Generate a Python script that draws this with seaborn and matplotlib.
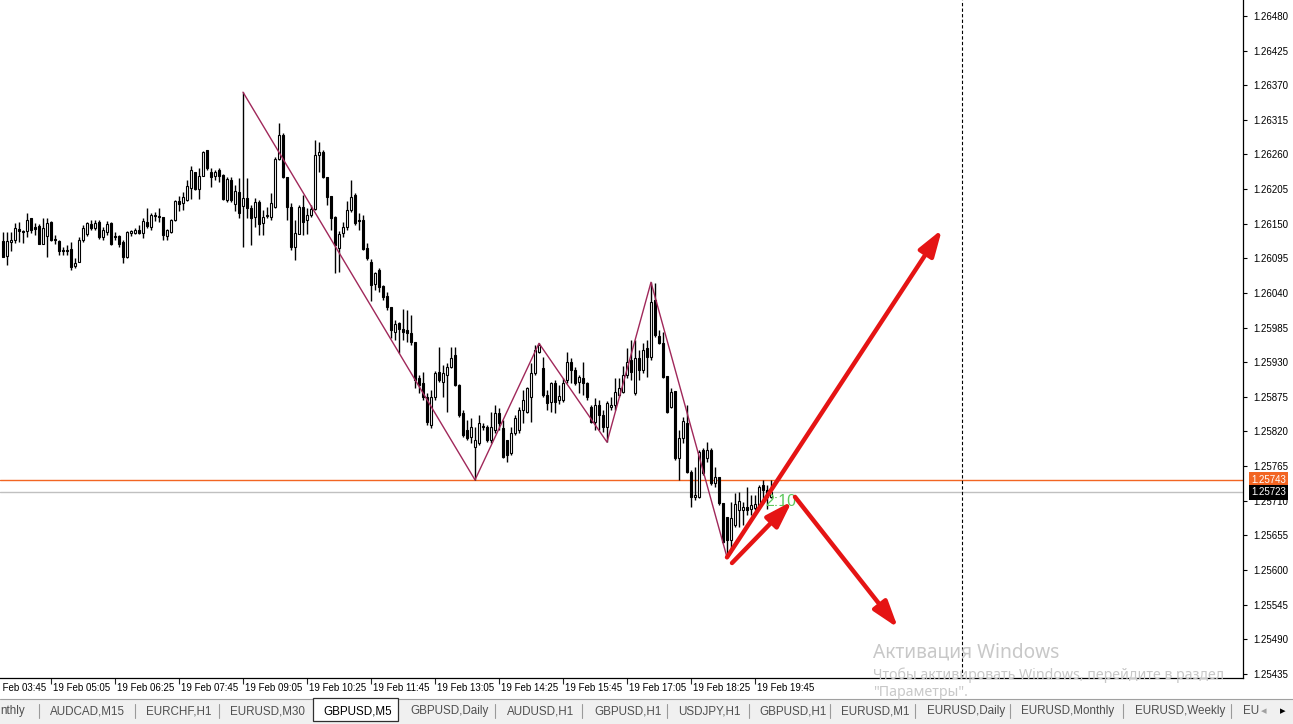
import numpy as np
import pandas as pd
import matplotlib
matplotlib.use("Agg")
import matplotlib.pyplot as plt
import matplotlib.transforms as mtransforms
from matplotlib.patches import Rectangle
from matplotlib.lines import Line2D
import seaborn as sns

# ---------------- data (GBPUSD, M5, 19 Feb) ----------------
opens = [1.26122, 1.26098, 1.26121, 1.26124, 1.26141, 1.26138, 1.26138, 1.26159, 1.26144, 1.26146,
         1.26118, 1.26130, 1.26152, 1.26126, 1.26122, 1.26108, 1.26108, 1.26110, 1.26083, 1.26089,
         1.26124, 1.26133, 1.26149, 1.26143, 1.26152, 1.26129, 1.26137, 1.26151, 1.26130, 1.26130,
         1.26121, 1.26097, 1.26135, 1.26135, 1.26140, 1.26135, 1.26152, 1.26144, 1.26164, 1.26162,
         1.26160, 1.26130, 1.26137, 1.26156, 1.26186, 1.26183, 1.26187, 1.26206, 1.26232, 1.26205,
         1.26226, 1.26267, 1.26232, 1.26226, 1.26235, 1.26227, 1.26187, 1.26219, 1.26181, 1.26200,
         1.26178, 1.26191, 1.26175, 1.26160, 1.26184, 1.26151, 1.26162, 1.26160, 1.26176, 1.26253,
         1.26291, 1.26224, 1.26176, 1.26113, 1.26133, 1.26176, 1.26156, 1.26164, 1.26173, 1.26259,
         1.26264, 1.26224, 1.26194, 1.26160, 1.26111, 1.26135, 1.26144, 1.26172, 1.26195, 1.26156,
         1.26156, 1.26112, 1.26089, 1.26054, 1.26076, 1.26051, 1.26035, 1.26017, 1.25978, 1.25992,
         1.25983, 1.25981, 1.25976, 1.25962, 1.25905, 1.25897, 1.25875, 1.25830, 1.25875, 1.25914,
         1.25898, 1.25910, 1.25922, 1.25941, 1.25894, 1.25849, 1.25822, 1.25811, 1.25795, 1.25802,
         1.25827, 1.25827, 1.25806, 1.25822, 1.25849, 1.25825, 1.25806, 1.25786, 1.25817, 1.25822,
         1.25854, 1.25851, 1.25875, 1.25913, 1.25946, 1.25921, 1.25878, 1.25867, 1.25897, 1.25870,
         1.25870, 1.25902, 1.25930, 1.25917, 1.25898, 1.25905, 1.25897, 1.25859, 1.25835, 1.25862,
         1.25846, 1.25827, 1.25859, 1.25862, 1.25878, 1.25883, 1.25910, 1.25933, 1.25881, 1.25937,
         1.25917, 1.25952, 1.25938, 1.26029, 1.25971, 1.25960, 1.25908, 1.25859, 1.25884, 1.25778,
         1.25810, 1.25833, 1.25755, 1.25716, 1.25716, 1.25790, 1.25778, 1.25790, 1.25738, 1.25748,
         1.25706, 1.25684, 1.25648, 1.25671, 1.25695, 1.25695, 1.25700, 1.25697, 1.25698, 1.25703,
         1.25735, 1.25727, 1.25716]

closes = [1.26097, 1.26122, 1.26124, 1.26143, 1.26138, 1.26137, 1.26156, 1.26140, 1.26141, 1.26118,
          1.26143, 1.26151, 1.26124, 1.26124, 1.26106, 1.26106, 1.26106, 1.26081, 1.26087, 1.26124,
          1.26143, 1.26151, 1.26143, 1.26151, 1.26129, 1.26140, 1.26149, 1.26118, 1.26129, 1.26118,
          1.26097, 1.26137, 1.26138, 1.26140, 1.26135, 1.26154, 1.26146, 1.26164, 1.26162, 1.26160,
          1.26132, 1.26140, 1.26156, 1.26186, 1.26181, 1.26192, 1.26210, 1.26235, 1.26205, 1.26226,
          1.26264, 1.26238, 1.26224, 1.26232, 1.26226, 1.26189, 1.26221, 1.26187, 1.26202, 1.26167,
          1.26191, 1.26175, 1.26159, 1.26184, 1.26149, 1.26160, 1.26164, 1.26183, 1.26253, 1.26291,
          1.26224, 1.26176, 1.26113, 1.26135, 1.26176, 1.26152, 1.26164, 1.26173, 1.26259, 1.26264,
          1.26224, 1.26192, 1.26159, 1.26116, 1.26133, 1.26144, 1.26172, 1.26192, 1.26151, 1.26155,
          1.26110, 1.26095, 1.26052, 1.26071, 1.26049, 1.26033, 1.26017, 1.25981, 1.25990, 1.25983,
          1.25978, 1.25976, 1.25962, 1.25902, 1.25894, 1.25875, 1.25835, 1.25875, 1.25913, 1.25902,
          1.25913, 1.25922, 1.25937, 1.25894, 1.25846, 1.25814, 1.25810, 1.25827, 1.25806, 1.25833,
          1.25829, 1.25806, 1.25827, 1.25849, 1.25833, 1.25779, 1.25782, 1.25817, 1.25841, 1.25854,
          1.25870, 1.25889, 1.25913, 1.25949, 1.25957, 1.25878, 1.25865, 1.25897, 1.25867, 1.25876,
          1.25897, 1.25930, 1.25917, 1.25897, 1.25906, 1.25897, 1.25875, 1.25835, 1.25862, 1.25846,
          1.25827, 1.25865, 1.25862, 1.25883, 1.25889, 1.25910, 1.25930, 1.25914, 1.25937, 1.25917,
          1.25949, 1.25938, 1.26025, 1.25973, 1.25960, 1.25906, 1.25851, 1.25883, 1.25778, 1.25810,
          1.25836, 1.25755, 1.25716, 1.25719, 1.25787, 1.25754, 1.25790, 1.25738, 1.25748, 1.25706,
          1.25644, 1.25648, 1.25682, 1.25705, 1.25709, 1.25700, 1.25695, 1.25703, 1.25705, 1.25732,
          1.25727, 1.25716, 1.25723]

highs = [1.26137, 1.26137, 1.26137, 1.26151, 1.26152, 1.26140, 1.26167, 1.26159, 1.26151, 1.26149,
         1.26159, 1.26159, 1.26154, 1.26132, 1.26124, 1.26113, 1.26116, 1.26121, 1.26095, 1.26129,
         1.26148, 1.26152, 1.26156, 1.26156, 1.26156, 1.26144, 1.26154, 1.26152, 1.26137, 1.26132,
         1.26124, 1.26138, 1.26140, 1.26143, 1.26148, 1.26159, 1.26175, 1.26167, 1.26168, 1.26175,
         1.26160, 1.26141, 1.26157, 1.26187, 1.26194, 1.26200, 1.26219, 1.26241, 1.26232, 1.26238,
         1.26265, 1.26267, 1.26238, 1.26235, 1.26238, 1.26229, 1.26224, 1.26224, 1.26211, 1.26222,
         1.26359, 1.26222, 1.26180, 1.26191, 1.26187, 1.26172, 1.26176, 1.26199, 1.26256, 1.26310,
         1.26294, 1.26224, 1.26183, 1.26156, 1.26180, 1.26195, 1.26175, 1.26180, 1.26283, 1.26280,
         1.26267, 1.26224, 1.26194, 1.26162, 1.26138, 1.26152, 1.26186, 1.26219, 1.26199, 1.26167,
         1.26164, 1.26119, 1.26094, 1.26073, 1.26079, 1.26052, 1.26041, 1.26017, 1.25997, 1.25994,
         1.26014, 1.26013, 1.26005, 1.25962, 1.25910, 1.25914, 1.25881, 1.25886, 1.25916, 1.25954,
         1.25925, 1.25929, 1.25954, 1.25954, 1.25895, 1.25854, 1.25838, 1.25841, 1.25827, 1.25846,
         1.25833, 1.25830, 1.25851, 1.25862, 1.25857, 1.25838, 1.25806, 1.25827, 1.25846, 1.25859,
         1.25886, 1.25890, 1.25929, 1.25957, 1.25960, 1.25938, 1.25886, 1.25898, 1.25902, 1.25894,
         1.25905, 1.25946, 1.25937, 1.25922, 1.25910, 1.25930, 1.25898, 1.25862, 1.25873, 1.25870,
         1.25854, 1.25868, 1.25875, 1.25905, 1.25905, 1.25924, 1.25952, 1.25965, 1.25965, 1.25949,
         1.25960, 1.25965, 1.26057, 1.26056, 1.25981, 1.25978, 1.25908, 1.25889, 1.25884, 1.25822,
         1.25843, 1.25862, 1.25759, 1.25763, 1.25790, 1.25794, 1.25803, 1.25794, 1.25763, 1.25748,
         1.25706, 1.25684, 1.25708, 1.25722, 1.25724, 1.25708, 1.25732, 1.25719, 1.25719, 1.25735,
         1.25743, 1.25735, 1.25743]

lows = [1.26097, 1.26084, 1.26106, 1.26119, 1.26121, 1.26119, 1.26129, 1.26135, 1.26132, 1.26118,
        1.26118, 1.26097, 1.26122, 1.26118, 1.26100, 1.26100, 1.26100, 1.26076, 1.26079, 1.26089,
        1.26121, 1.26130, 1.26140, 1.26140, 1.26126, 1.26124, 1.26132, 1.26116, 1.26124, 1.26113,
        1.26087, 1.26095, 1.26130, 1.26133, 1.26133, 1.26127, 1.26143, 1.26140, 1.26154, 1.26152,
        1.26124, 1.26124, 1.26135, 1.26154, 1.26170, 1.26172, 1.26186, 1.26189, 1.26203, 1.26189,
        1.26226, 1.26235, 1.26208, 1.26219, 1.26216, 1.26187, 1.26184, 1.26184, 1.26170, 1.26159,
        1.26113, 1.26159, 1.26116, 1.26144, 1.26132, 1.26132, 1.26159, 1.26156, 1.26175, 1.26251,
        1.26222, 1.26156, 1.26108, 1.26092, 1.26133, 1.26132, 1.26133, 1.26160, 1.26172, 1.26232,
        1.26222, 1.26180, 1.26140, 1.26071, 1.26073, 1.26129, 1.26140, 1.26168, 1.26148, 1.26140,
        1.26108, 1.26092, 1.26027, 1.26044, 1.26041, 1.26029, 1.26013, 1.25968, 1.25965, 1.25944,
        1.25965, 1.25962, 1.25957, 1.25889, 1.25881, 1.25870, 1.25830, 1.25825, 1.25870, 1.25898,
        1.25875, 1.25851, 1.25921, 1.25892, 1.25843, 1.25811, 1.25806, 1.25802, 1.25743, 1.25798,
        1.25822, 1.25803, 1.25802, 1.25817, 1.25822, 1.25778, 1.25771, 1.25782, 1.25814, 1.25817,
        1.25833, 1.25849, 1.25835, 1.25910, 1.25944, 1.25875, 1.25854, 1.25851, 1.25849, 1.25863,
        1.25867, 1.25897, 1.25897, 1.25894, 1.25881, 1.25878, 1.25870, 1.25833, 1.25822, 1.25822,
        1.25819, 1.25803, 1.25854, 1.25854, 1.25875, 1.25881, 1.25905, 1.25902, 1.25878, 1.25902,
        1.25913, 1.25906, 1.25933, 1.25970, 1.25959, 1.25905, 1.25849, 1.25857, 1.25775, 1.25743,
        1.25802, 1.25754, 1.25700, 1.25711, 1.25714, 1.25751, 1.25771, 1.25735, 1.25732, 1.25703,
        1.25643, 1.25620, 1.25628, 1.25668, 1.25668, 1.25671, 1.25687, 1.25687, 1.25695, 1.25698,
        1.25706, 1.25697, 1.25714]

# ZigZag turning points (bar index, 'H' = high, 'L' = low)
zigzag_bars = [60, 118, 134, 151, 162, 181]
zigzag_kind = ['H', 'L', 'H', 'L', 'H', 'L']

# horizontal levels
level_price = 1.25743      # orange line
bid_price = 1.25723        # bid line

# time axis labels (bar index relative to first bar at 04:05)
time_label_bars = [-4, 12, 28, 44, 60, 76, 92, 108, 124, 140, 156, 172, 188]
time_labels = ['19 Feb 03:45', '19 Feb 05:05', '19 Feb 06:25', '19 Feb 07:45', '19 Feb 09:05',
               '19 Feb 10:25', '19 Feb 11:45', '19 Feb 13:05', '19 Feb 14:25', '19 Feb 15:45',
               '19 Feb 17:05', '19 Feb 18:25', '19 Feb 19:45']

price_ticks = [1.26480, 1.26425, 1.26370, 1.26315, 1.26260, 1.26205, 1.26150, 1.26095, 1.26040,
               1.25985, 1.25930, 1.25875, 1.25820, 1.25765, 1.25710, 1.25655, 1.25600, 1.25545,
               1.25490, 1.25435]
price_tick_labels = ['1.26480', '1.26425', '1.26370', '1.26315', '1.26260', '1.26205', '1.26150',
                     '1.26095', '1.26040', '1.25985', '1.25930', '1.25875', '1.25820', '1.25765',
                     '1.25710', '1.25655', '1.25600', '1.25545', '1.25490', '1.25435']

# forecast arrows (start bar, start price, end bar, end price)
arrow_x0 = [181.0, 182.25, 198.0]
arrow_y0 = [1.25620, 1.25611, 1.25716]
arrow_x1 = [234.75, 197.25, 223.75]
arrow_y1 = [1.26141, 1.25709, 1.25508]

timer_text = '2:10'
timer_bar, timer_price = 190.5, 1.25708
separator_bar = 239.75

tabs = ['nthly', 'AUDCAD,M15', 'EURCHF,H1', 'EURUSD,M30', 'GBPUSD,M5', 'GBPUSD,Daily',
        'AUDUSD,H1', 'GBPUSD,H1', 'USDJPY,H1', 'GBPUSD,H1', 'EURUSD,M1', 'EURUSD,Daily',
        'EURUSD,Monthly', 'EURUSD,Weekly', 'EU']
active_tab = 'GBPUSD,M5'

# ---------------- styling ----------------
sns.set_style('white')
plt.rcParams['font.family'] = ['Liberation Sans', 'DejaVu Sans']

W, H = 1293, 724
fig = plt.figure(figsize=(W / 100, H / 100), dpi=100)
fig.patch.set_facecolor('white')
ax = fig.add_axes([0, 46 / H, 1243 / W, 678 / H])
ax.set_facecolor('white')

df = pd.DataFrame({'bar': np.arange(len(opens)), 'open': opens, 'high': highs,
                   'low': lows, 'close': closes})
up = df['close'] >= df['open']

# wicks
ax.vlines(df['bar'], df['low'], df['high'], color='black', lw=1.0, zorder=3)
# bodies
ax.bar(df['bar'], (df['close'] - df['open']).abs(), bottom=np.minimum(df['open'], df['close']),
       width=0.58, color=np.where(up, 'white', 'black'), edgecolor='black', linewidth=0.8,
       zorder=4)

# zigzag
zz = pd.DataFrame({'bar': zigzag_bars,
                   'price': [highs[b] if k == 'H' else lows[b] for b, k in zip(zigzag_bars, zigzag_kind)]})
sns.lineplot(data=zz, x='bar', y='price', ax=ax, color='#A0285A', lw=1.0, zorder=5, sort=False)

# level lines
ax.axhline(level_price, color='#F26522', lw=1.0, zorder=2)
ax.axhline(bid_price, color='#C0C0C0', lw=1.0, zorder=2)
ax.axvline(separator_bar, color='black', lw=0.8, ls=(0, (3, 2)), zorder=2)

# timer text
ax.text(timer_bar, timer_price, timer_text, color='#5CC85C', fontsize=11.5, va='center',
        ha='left', zorder=6)

# forecast arrows
for x0, y0, x1, y1 in zip(arrow_x0, arrow_y0, arrow_x1, arrow_y1):
    ax.annotate('', xy=(x1, y1), xytext=(x0, y0),
                arrowprops=dict(arrowstyle='-|>,head_length=0.8,head_width=0.26',
                                color='#E51414', lw=3.2, shrinkA=0, shrinkB=0,
                                mutation_scale=20), zorder=7)

# axes limits and spines
ax.set_xlim(-0.75, 310)
ax.set_ylim(1.254283, 1.265054)
for s in ['left', 'top']:
    ax.spines[s].set_visible(False)
for s in ['right', 'bottom']:
    ax.spines[s].set_color('black')
    ax.spines[s].set_linewidth(0.9)
ax.set_xlabel('')
ax.set_ylabel('')

# price axis
ax.yaxis.tick_right()
ax.set_yticks(price_ticks)
ax.set_yticklabels(price_tick_labels)
ax.tick_params(axis='y', which='both', right=True, left=False, length=3, width=0.8,
               direction='out', pad=4.2, labelsize=7, colors='black')

# time axis
ax.set_xticks([b for b in time_label_bars if b >= 0])
ax.tick_params(axis='x', which='both', bottom=True, length=4, width=0.8, direction='out',
               labelbottom=False)
off = mtransforms.ScaledTranslation(2 / 100, -10 / 100, fig.dpi_scale_trans)
for b, lab in zip(time_label_bars, time_labels):
    ax.text(b, 0, lab, transform=ax.get_xaxis_transform() + off, ha='left', va='center',
            fontsize=7, color='black', clip_on=False)

# price labels on axis
lab_tr = ax.get_yaxis_transform()
ax.text(1251 / 1243, level_price, '1.25743', transform=lab_tr, ha='left', va='center',
        fontsize=7, color='white', zorder=10, clip_on=False,
        bbox=dict(boxstyle='square,pad=0.25', fc='#F26522', ec='none'))
ax.text(1251 / 1243, bid_price, '1.25723', transform=lab_tr, ha='left', va='center',
        fontsize=7, color='white', zorder=10, clip_on=False,
        bbox=dict(boxstyle='square,pad=0.25', fc='black', ec='none'))

# ---------------- tab bar ----------------
fig.add_artist(Rectangle((0, 0), 1, 25 / H, transform=fig.transFigure, fc='#F0F0F0',
                         ec='none', zorder=1))
fig.add_artist(Line2D([0, 1], [25 / H, 25 / H], transform=fig.transFigure, color='#A0A0A0',
                      lw=0.8, zorder=1))
tab_left = [0, 50, 146, 230, 323, 410, 507, 594, 678, 759, 841, 927, 1021, 1135, 1243]
sep_x = [39, 135, 219, 495, 582, 667, 749, 830, 915, 1010, 1123, 1231]
fig.add_artist(Rectangle((313 / W, 3 / H), 85 / W, 23 / H, transform=fig.transFigure,
                         fc='white', ec='#303030', lw=0.9, zorder=2))
for t, xl in zip(tabs, tab_left):
    fig.text(xl / W, 13 / H, t, fontsize=8.4, va='center', ha='left',
             color='black' if t == active_tab else '#505050', zorder=3)
for sx in sep_x:
    fig.add_artist(Line2D([sx / W, sx / W], [6 / H, 20 / H], transform=fig.transFigure,
                          color='#9A9A9A', lw=0.8, zorder=3))
fig.text(1264 / W, 13 / H, '\u25c2', fontsize=8, va='center', ha='center', color='#A0A0A0',
         family=['DejaVu Sans'])
fig.text(1283 / W, 13 / H, '\u25b8', fontsize=8, va='center', ha='center', color='black',
         family=['DejaVu Sans'])

# ---------------- Windows activation watermark ----------------
wm_color = '#C8C8C8'
fig.text(873 / W, (H - 652) / H, 'Активация Windows', fontsize=13.8, color=wm_color,
         va='center', ha='left', family=['Noto Sans', 'DejaVu Sans'], zorder=20)
fig.text(873 / W, (H - 675) / H, 'Чтобы активировать Windows, перейдите в раздел',
         fontsize=10.2, color=wm_color, va='center', ha='left',
         family=['Noto Sans', 'DejaVu Sans'], zorder=20)
fig.text(873 / W, (H - 693) / H, '"Параметры".', fontsize=10.2, color=wm_color, va='center',
         ha='left', family=['Noto Sans', 'DejaVu Sans'], zorder=20)

fig.savefig('out.png', dpi=100, facecolor='white')
